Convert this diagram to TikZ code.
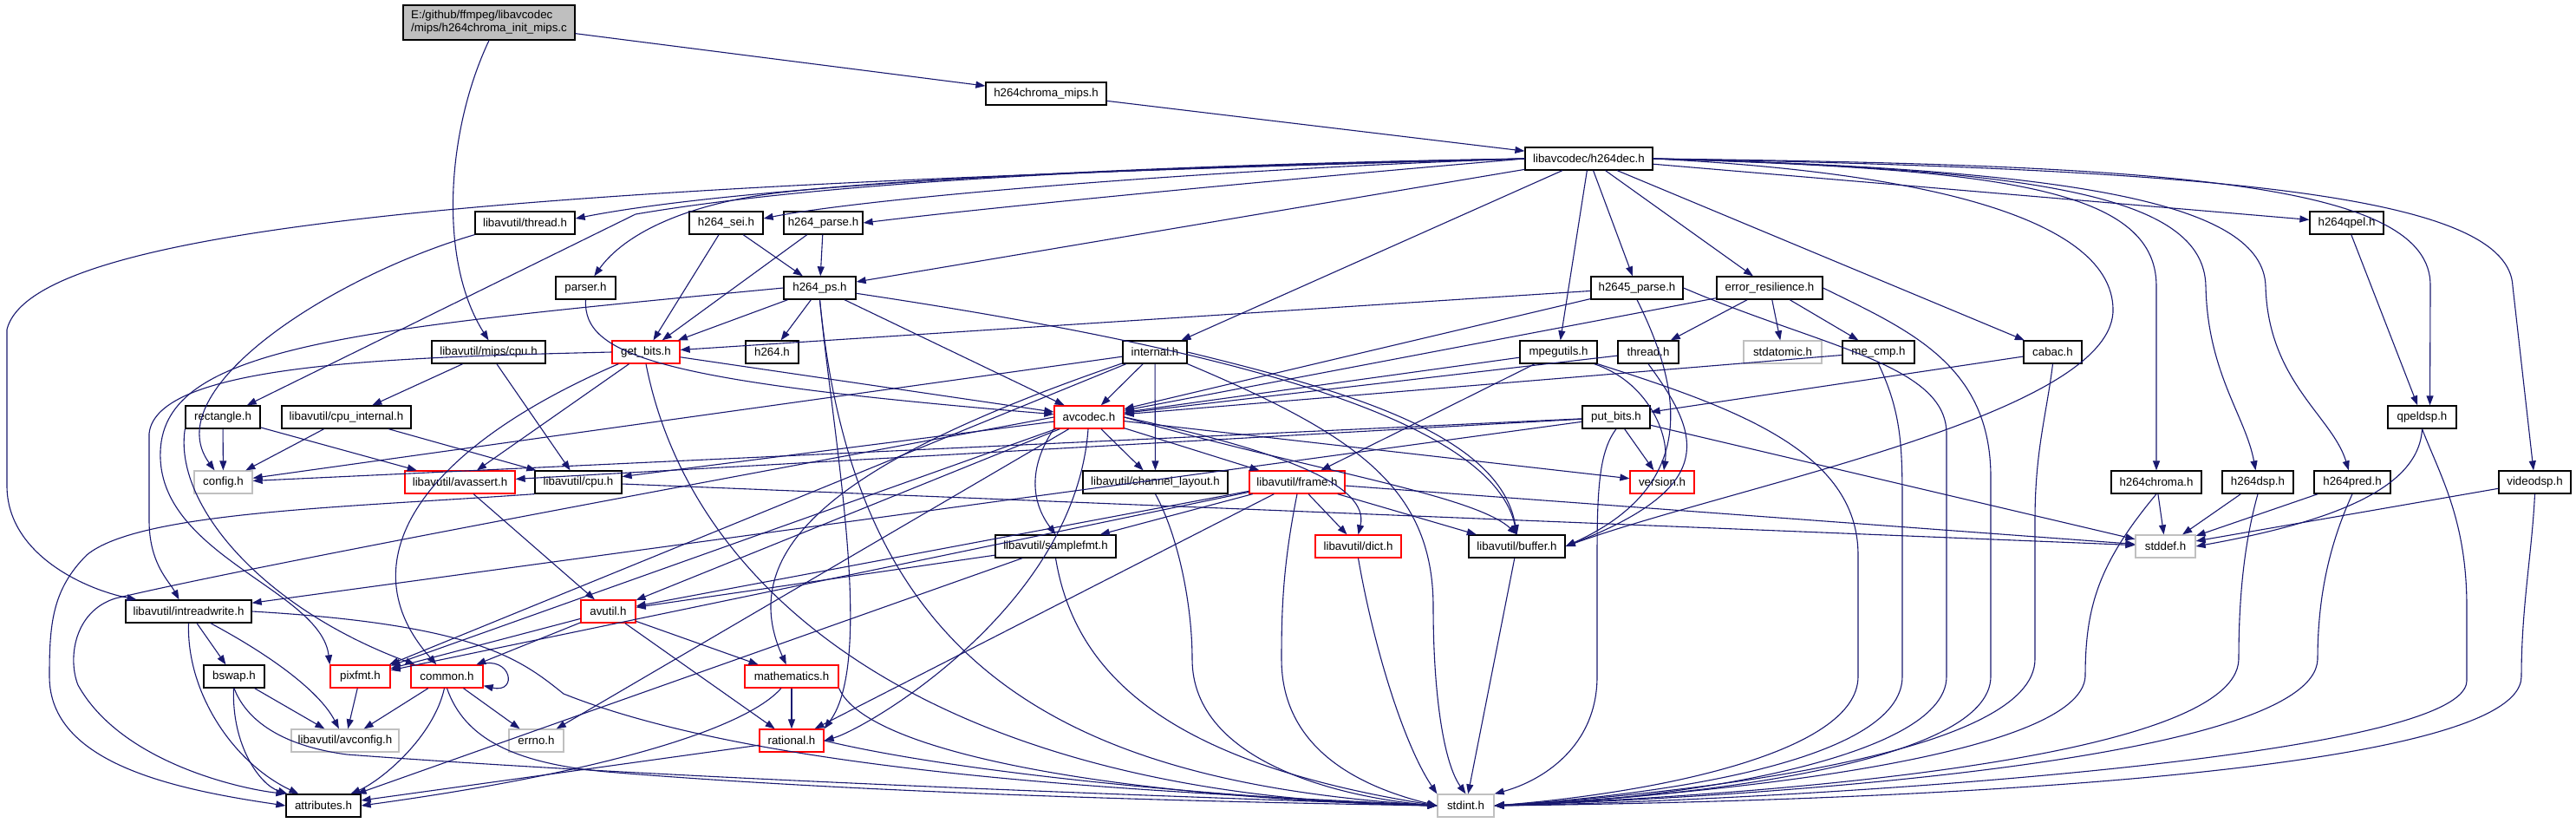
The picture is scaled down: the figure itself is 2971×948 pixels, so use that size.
\documentclass[tikz,border=0pt]{standalone}
\usepackage{fontspec}
\setmainfont{Liberation Sans}
\usetikzlibrary{arrows.meta}
\definecolor{edgec}{HTML}{191970}
\definecolor{sysgray}{HTML}{C0C0C0}
\definecolor{rootgray}{HTML}{BFBFBF}
\begin{document}
\begin{tikzpicture}[x=1pt,y=-1pt,
  nb/.style={draw=black,line width=1.3pt,fill=white,inner sep=0pt,minimum height=26pt,font=\fontsize{13.3}{15}\selectfont,text=black},
  nr/.style={nb,draw=red},
  ng/.style={nb,draw=sysgray},
  w/.style={minimum width=#1pt},
  edg/.style={draw=edgec,line width=1.1pt,-{Triangle[length=11pt,width=8pt]}},
]
\fill[white] (0,0) rectangle (2971,948);
\useasboundingbox (0,0) rectangle (2971,948);

% nodes
\node[nb,fill=rootgray,w=198,minimum height=40pt,align=left] (root) at (564,26) {E:/github/ffmpeg/libavcodec\\/mips/h264chroma\_init\_mips.c};
\node[nb,w=139] (chm) at (1206.5,108) {h264chroma\_mips.h};
\node[nb,w=147] (dec) at (1832.5,183) {libavcodec/h264dec.h};
\node[nb,w=115] (lthread) at (605.5,257) {libavutil/thread.h};
\node[nb,w=85] (sei) at (837.5,257) {h264\_sei.h};
\node[nb,w=91] (parse) at (949.5,257) {h264\_parse.h};
\node[nb,w=85] (qpel) at (2706.5,257) {h264qpel.h};
\node[nb,w=69] (parser) at (675.5,332) {parser.h};
\node[nb,w=83] (ps) at (945.5,332) {h264\_ps.h};
\node[nb,w=106] (h2645) at (1888,332) {h2645\_parse.h};
\node[nb,w=122] (er) at (2041,332) {error\_resilience.h};
\node[nb,w=131] (mipscpu) at (563.5,406) {libavutil/mips/cpu.h};
\node[nr,w=78] (getbits) at (745,406) {get\_bits.h};
\node[nb,w=61] (h264) at (890.5,406) {h264.h};
\node[nb,w=74] (internal) at (1332,406) {internal.h};
\node[nb,w=89] (mpegutils) at (1797.5,406) {mpegutils.h};
\node[nb,w=70] (thread) at (1901,406) {thread.h};
\node[ng,w=90] (stdatomic) at (2056,406) {stdatomic.h};
\node[nb,w=83] (mecmp) at (2166.5,406) {me\_cmp.h};
\node[nb,w=67] (cabac) at (2367.5,406) {cabac.h};
\node[nb,w=86] (rect) at (257,481) {rectangle.h};
\node[nb,w=149] (cpuint) at (399.5,481) {libavutil/cpu\_internal.h};
\node[nr,w=80] (avcodec) at (1256,481) {avcodec.h};
\node[nb,w=78] (putbits) at (1864,481) {put\_bits.h};
\node[nb,w=79] (qpeldsp) at (2793.5,481) {qpeldsp.h};
\node[ng,w=67] (config) at (257.5,556) {config.h};
\node[nr,w=127] (avassert) at (530.5,556) {libavutil/avassert.h};
\node[nb,w=100] (cpu) at (667,556) {libavutil/cpu.h};
\node[nb,w=167] (chlayout) at (1332.5,556) {libavutil/channel\_layout.h};
\node[nr,w=110] (frame) at (1496,556) {libavutil/frame.h};
\node[nr,w=74] (version) at (1917,556) {version.h};
\node[nb,w=104] (h264chroma) at (2487,556) {h264chroma.h};
\node[nb,w=82] (h264dsp) at (2604,556) {h264dsp.h};
\node[nb,w=88] (h264pred) at (2713,556) {h264pred.h};
\node[nb,w=83] (videodsp) at (2923.5,556) {videodsp.h};
\node[nb,w=139] (samplefmt) at (1217.5,630) {libavutil/samplefmt.h};
\node[nr,w=99] (dict) at (1566.5,630) {libavutil/dict.h};
\node[nb,w=111] (buffer) at (1749.5,630) {libavutil/buffer.h};
\node[ng,w=69] (stddef) at (2497.5,630) {stddef.h};
\node[nb,w=145] (irw) at (217.5,705) {libavutil/intreadwrite.h};
\node[nr,w=63] (avutil) at (701.5,705) {avutil.h};
\node[nb,w=70] (bswap) at (270,780) {bswap.h};
\node[nr,w=69] (pixfmt) at (415.5,780) {pixfmt.h};
\node[nr,w=83] (common) at (515.5,780) {common.h};
\node[nr,w=108] (mathematics) at (913,780) {mathematics.h};
\node[ng,w=124] (avconfig) at (398,854) {libavutil/avconfig.h};
\node[ng,w=63] (errno) at (618.5,854) {errno.h};
\node[nr,w=74] (rational) at (913,854) {rational.h};
\node[nb,w=86] (attributes) at (373,929) {attributes.h};
\node[ng,w=65] (stdint) at (1690.5,929) {stdint.h};

% root
\draw[edg] (root) -- (chm);
\draw[edg] (root.south) .. controls (515,150) and (505,300) .. (mipscpu.north);
\draw[edg] (chm) -- (dec);

% h264dec
\draw[edg] (dec.west) .. controls (700,212) and (40,250) .. (8,380) -- (8,560) .. controls (8,640) and (100,680) .. ([xshift=-60pt]irw.north);
\draw[edg] (dec.west) .. controls (1300,190) and (850,215) .. ([yshift=5pt]lthread.east);
\draw[edg] (dec.west) .. controls (1300,192) and (950,210) .. (733,247) -- (rect);
\draw[edg] (dec.west) .. controls (1300,195) and (1050,205) .. (900,222) .. controls (790,235) and (720,270) .. (parser);
\draw[edg] (dec.west) .. controls (1400,195) and (1000,228) .. ([yshift=5pt]sei.east);
\draw[edg] (dec.west) .. controls (1500,205) and (1150,238) .. (parse.east);
\draw[edg] (dec) -- (ps);
\draw[edg] (dec) -- (internal);
\draw[edg] (dec) -- (mpegutils);
\draw[edg] (dec) -- (h2645);
\draw[edg] (dec) -- (er);
\draw[edg] (dec) -- (cabac);
\draw[edg] (dec) -- (qpel);
\draw[edg] (dec.east) .. controls (2250,200) and (2440,260) .. (2437,360) .. controls (2430,480) and (2000,560) .. (buffer.east);
\draw[edg] (dec.east) .. controls (2300,195) and (2487,215) .. (2487,330) -- (h264chroma);
\draw[edg] (dec.east) .. controls (2350,195) and (2542,225) .. (2544,330) .. controls (2546,430) and (2590,480) .. (h264dsp);
\draw[edg] (dec.east) .. controls (2400,195) and (2610,235) .. (2613,330) .. controls (2616,440) and (2690,480) .. (h264pred);
\draw[edg] (dec.east) .. controls (2500,190) and (2805,210) .. (2803,330) -- ([xshift=9pt]qpeldsp.north);
\draw[edg] (dec.east) .. controls (2600,195) and (2893,230) .. (2898,330) -- (videodsp);
\draw[edg] (qpel) -- (qpeldsp);

% sei, parse, parser
\draw[edg] (sei) -- (getbits);
\draw[edg] (sei) -- (ps);
\draw[edg] (parse) -- (getbits);
\draw[edg] (parse) -- (ps);
\draw[edg] (parser.south) .. controls (672,410) and (760,440) .. (avcodec);
\draw[edg] (lthread.south west) .. controls (380,320) and (180,450) .. (config);

% h264_ps
\draw[edg] (ps) -- (getbits);
\draw[edg] (ps) -- (h264);
\draw[edg] (ps) -- (avcodec);
\draw[edg] (ps.south) .. controls (985,750) and (1200,900) .. (stdint.west);
\draw[edg] (ps) .. controls (1400,400) and (1720,480) .. (buffer.north);
\draw[edg] (ps.west) .. controls (400,380) and (190,400) .. (185,520) .. controls (180,640) and (370,680) .. (pixfmt.north west);
\draw[edg] (ps.south) .. controls (960,500) and (1010,760) .. (rational.north east);

% h2645
\draw[edg] (h2645) -- (getbits);
\draw[edg] (h2645) -- (avcodec);
\draw[edg] (h2645.south) .. controls (1940,450) and (1960,560) .. (buffer.east);
\draw[edg] (h2645.east) .. controls (2100,400) and (2245,420) .. (2245,500) -- (2245,780) .. controls (2245,880) and (1900,925) .. (stdint.east);

% error_resilience
\draw[edg] (er) -- (stdatomic);
\draw[edg] (er) -- (mecmp);
\draw[edg] (er) -- (thread);
\draw[edg] (er) -- (avcodec);
\draw[edg] (er.east) .. controls (2200,380) and (2296,420) .. (2296,550) -- (2296,780) .. controls (2296,880) and (1950,920) .. (stdint.east);

% mips cpu
\draw[edg] (mipscpu) -- (cpuint);
\draw[edg] (mipscpu) -- (cpu);

% get_bits
\draw[edg] (getbits) -- (avassert);
\draw[edg] (getbits) -- (avcodec);
\draw[edg] (getbits.west) .. controls (450,412) and (180,420) .. (172,500) -- (172,600) .. controls (172,650) and (195,670) .. ([xshift=-11pt]irw.north);
\draw[edg] (getbits) .. controls (480,520) and (400,650) .. (common);
\draw[edg] (getbits.south) .. controls (800,700) and (1100,920) .. (stdint.west);

% internal
\draw[edg] (internal) -- (avcodec);
\draw[edg] (internal) -- (chlayout);
\draw[edg] (internal.east) .. controls (1550,450) and (1730,500) .. (buffer.north);
\draw[edg] (internal.south east) .. controls (1560,500) and (1653,560) .. (1653,700) .. controls (1653,800) and (1665,880) .. (stdint.north);
\draw[edg] (internal) .. controls (1000,520) and (840,620) .. (mathematics);
\draw[edg] (internal) -- (pixfmt);
\draw[edg] (internal) -- (config);

% mpegutils
\draw[edg] (mpegutils) -- (frame);
\draw[edg] (mpegutils) -- (avcodec);
\draw[edg] (mpegutils) .. controls (1900,440) and (1925,500) .. (version);
\draw[edg] (mpegutils.south east) .. controls (2000,470) and (2143,520) .. (2143,640) -- (2143,780) .. controls (2143,870) and (1900,915) .. (stdint.east);

% thread
\draw[edg] (thread) -- (avcodec);
\draw[edg] (thread.south) .. controls (1960,500) and (1985,560) .. (buffer.east);

% me_cmp, cabac
\draw[edg] (mecmp) -- (avcodec);
\draw[edg] (mecmp.south) .. controls (2195,480) and (2194,520) .. (2194,600) -- (2194,780) .. controls (2194,880) and (1900,918) .. (stdint.east);
\draw[edg] (cabac) -- (putbits);
\draw[edg] (cabac.south) .. controls (2360,480) and (2347,520) .. (2347,600) -- (2347,760) .. controls (2347,870) and (1950,915) .. (stdint.east);

% rectangle, cpu_internal
\draw[edg] (rect) -- (config);
\draw[edg] (rect) -- (avassert);
\draw[edg] (rect.south west) .. controls (200,580) and (300,700) .. (common);
\draw[edg] (cpuint) -- (config);
\draw[edg] (cpuint) -- (cpu);

% avcodec
\draw[edg] (avcodec) -- (errno);
\draw[edg] (avcodec.south west) .. controls (1185,540) and (1190,580) .. (samplefmt.north);
\draw[edg] (avcodec.west) .. controls (900,540) and (300,650) .. (133,690) .. controls (85,705) and (78,760) .. (90,790) .. controls (140,880) and (280,910) .. (attributes.north west);
\draw[edg] (avcodec) -- (avutil);
\draw[edg] (avcodec.east) .. controls (1500,540) and (1700,570) .. (buffer.north);
\draw[edg] (avcodec) -- (cpu);
\draw[edg] (avcodec) -- (chlayout);
\draw[edg] (avcodec.east) .. controls (1480,520) and (1580,560) .. (dict.north);
\draw[edg] (avcodec) -- (frame);
\draw[edg] (avcodec) -- (pixfmt);
\draw[edg] (avcodec) .. controls (1240,700) and (1000,840) .. (rational.east);
\draw[edg] (avcodec) -- (version);

% put_bits
\draw[edg] (putbits) -- (version);
\draw[edg] (putbits.south) .. controls (1845,520) and (1842,560) .. (1842,640) -- (1842,780) .. controls (1842,860) and (1780,900) .. (stdint.north east);
\draw[edg] (putbits) -- (stddef);
\draw[edg] (putbits) -- (config);
\draw[edg] (putbits) -- (avassert);
\draw[edg] (putbits) -- (irw);

% qpeldsp
\draw[edg] (qpeldsp.south) .. controls (2790,560) and (2700,600) .. (stddef.east);
\draw[edg] (qpeldsp.south) .. controls (2815,550) and (2845,600) .. (2845,700) -- (2845,785) .. controls (2845,880) and (2000,925) .. (stdint.east);

% cpu
\draw[edg] (cpu.south west) .. controls (400,585) and (160,590) .. (100,640) .. controls (60,680) and (57,720) .. (57,780) .. controls (57,880) and (200,910) .. (attributes.west);
\draw[edg] (cpu) -- (stddef);

% channel_layout
\draw[edg] (chlayout.south) .. controls (1360,620) and (1375,700) .. (1375,760) .. controls (1375,880) and (1550,920) .. (stdint.west);

% frame
\draw[edg] (frame) -- (stddef);
\draw[edg] (frame.south) .. controls (1480,650) and (1478,700) .. (1478,760) .. controls (1478,870) and (1580,910) .. (stdint.west);
\draw[edg] (frame) -- (avutil);
\draw[edg] (frame) -- (buffer);
\draw[edg] (frame) -- (dict);
\draw[edg] (frame) -- (rational);
\draw[edg] (frame) -- (samplefmt);
\draw[edg] (frame) -- (pixfmt);

% small dsp headers
\draw[edg] (h264chroma) -- (stddef);
\draw[edg] (h264chroma.south) .. controls (2420,650) and (2405,700) .. (2405,780) .. controls (2400,870) and (2000,915) .. (stdint.east);
\draw[edg] (h264dsp) -- (stddef);
\draw[edg] (h264dsp.south) .. controls (2590,620) and (2582,680) .. (2582,760) .. controls (2580,880) and (2000,918) .. (stdint.east);
\draw[edg] (h264pred) -- (stddef);
\draw[edg] (h264pred.south) .. controls (2690,620) and (2673,680) .. (2673,760) .. controls (2670,880) and (2000,920) .. (stdint.east);
\draw[edg] (videodsp) -- (stddef);
\draw[edg] (videodsp.south) .. controls (2920,640) and (2908,700) .. (2908,780) .. controls (2908,900) and (2100,925) .. (stdint.east);

% samplefmt, dict, buffer
\draw[edg] (samplefmt) -- (avutil);
\draw[edg] (samplefmt) -- (attributes);
\draw[edg] (samplefmt.south) .. controls (1240,780) and (1350,880) .. (stdint.west);
\draw[edg] (dict.south) .. controls (1585,750) and (1620,860) .. (stdint.north west);
\draw[edg] (buffer) -- (stdint);

% intreadwrite
\draw[edg] (irw) -- (bswap);
\draw[edg] (irw) .. controls (320,760) and (370,800) .. (avconfig);
\draw[edg] (irw.south) .. controls (215,800) and (270,880) .. (attributes);
\draw[edg] (irw.east) .. controls (550,720) and (600,760) .. (650,800) .. controls (900,900) and (1400,915) .. (stdint.west);

% avutil, avassert
\draw[edg] (avutil) -- (common);
\draw[edg] (avutil) -- (pixfmt);
\draw[edg] (avutil) -- (mathematics);
\draw[edg] (avutil) -- (rational);
\draw[edg] (avassert) -- (avutil);

% bswap, pixfmt, common
\draw[edg] (bswap) -- (avconfig);
\draw[edg] (bswap) .. controls (267,860) and (300,905) .. (attributes);
\draw[edg] (bswap.south) .. controls (280,820) and (310,858) .. (400,870) .. controls (800,900) and (1400,920) .. (stdint.west);
\draw[edg] (pixfmt) -- (avconfig);
\draw[edg] (common) -- (avconfig);
\draw[edg] (common) -- (errno);
\draw[edg] (common) .. controls (500,850) and (440,900) .. (attributes);
\draw[edg] (common.south) .. controls (535,850) and (590,880) .. (700,890) .. controls (1000,915) and (1400,925) .. (stdint.west);
\draw[edg] ([xshift=-5pt]common.north east) .. controls (590,755) and (598,800) .. ([yshift=3pt]common.south east);

% mathematics, rational
\draw[edg] (mathematics) -- (rational);
\draw[edg] (mathematics) .. controls (860,840) and (700,890) .. (attributes.east);
\draw[edg] (mathematics.south east) .. controls (1000,870) and (1300,920) .. (stdint.west);
\draw[edg] (rational) -- (attributes);
\draw[edg] (rational.east) .. controls (1100,890) and (1400,920) .. (stdint.west);
\end{tikzpicture}
\end{document}
